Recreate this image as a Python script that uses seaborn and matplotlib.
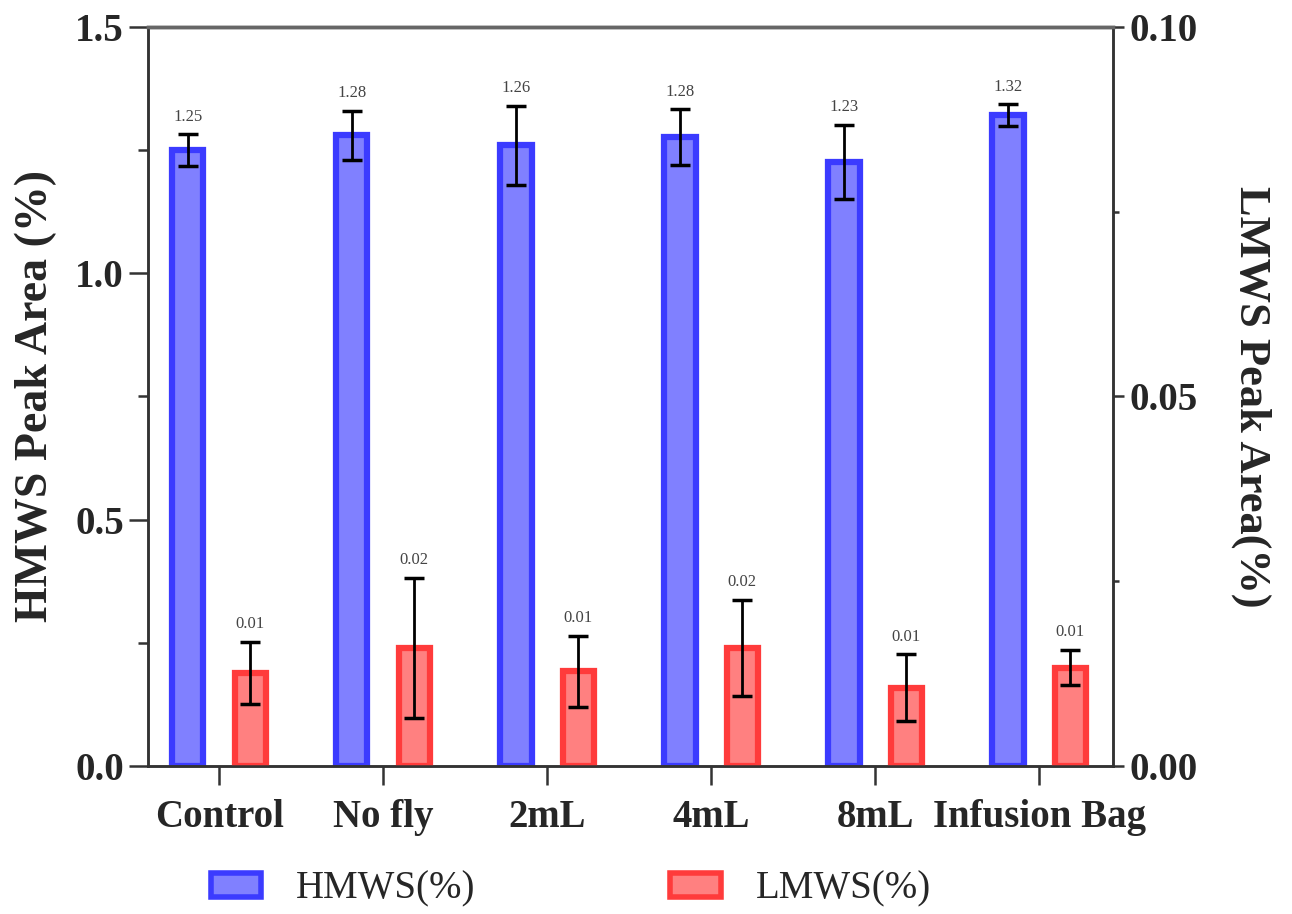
import matplotlib
matplotlib.use('Agg')
import pandas as pd
import seaborn as sns
import matplotlib.pyplot as plt
from matplotlib.patches import Patch
from matplotlib.ticker import MultipleLocator, FormatStrFormatter

groups = ['Control', 'No fly', '2mL', '4mL', '8mL', 'Infusion Bag']
hmws = [1.25, 1.28, 1.26, 1.276, 1.226, 1.321]
hmws_err = [0.032, 0.05, 0.08, 0.057, 0.075, 0.022]
lmws = [0.0126, 0.016, 0.0128, 0.016, 0.0106, 0.0133]
lmws_err = [0.0042, 0.0095, 0.0048, 0.0065, 0.0045, 0.0024]
series = ['HMWS(%)', 'LMWS(%)']

if __name__ == '__main__':
    sns.set_style('ticks')
    plt.rcParams['font.family'] = ['Liberation Serif', 'DejaVu Serif']

    face = {'HMWS(%)': '#8080ff', 'LMWS(%)': '#ff8080'}
    edge = {'HMWS(%)': '#3b3bff', 'LMWS(%)': '#ff3b3b'}

    df_h = pd.DataFrame({'group': groups, 'value': hmws, 'series': series[0]})
    df_l = pd.DataFrame({'group': groups, 'value': lmws, 'series': series[1]})

    fig = plt.figure(figsize=(12.92, 9.14), dpi=100)
    ax = fig.add_axes([0.1146, 0.1619, 0.7469, 0.8086])
    ax2 = ax.twinx()

    sns.barplot(data=df_h, x='group', y='value', hue='series', hue_order=series,
                palette=face, order=groups, width=0.76, gap=0.5, dodge=True, saturation=1,
                errorbar=None, legend=False, ax=ax, edgecolor=edge['HMWS(%)'], linewidth=4.5)
    sns.barplot(data=df_l, x='group', y='value', hue='series', hue_order=series,
                palette=face, order=groups, width=0.76, gap=0.5, dodge=True, saturation=1,
                errorbar=None, legend=False, ax=ax2, edgecolor=edge['LMWS(%)'], linewidth=4.5)

    # error bars + value labels
    for a, vals, errs in [(ax, hmws, hmws_err), (ax2, lmws, lmws_err)]:
        bars = [p for p in a.patches if p.get_height() > 0]
        xs = [p.get_x() + p.get_width() / 2 for p in bars]
        a.errorbar(xs, vals, yerr=errs, fmt='none', ecolor='black', elinewidth=2,
                   capsize=7, capthick=2.5, zorder=5)
        for x, v, e in zip(xs, vals, errs):
            a.annotate('{:.2f}'.format(v), (x, v + e), xytext=(0, 7), textcoords='offset points',
                       ha='center', va='bottom', fontsize=12, color='#444444')

    ax.set_xlim(-0.433, 5.451)
    ax.set_ylim(0, 1.5)
    ax2.set_ylim(0, 0.10)
    ax.yaxis.set_major_locator(MultipleLocator(0.5))
    ax.yaxis.set_minor_locator(MultipleLocator(0.25))
    ax.yaxis.set_major_formatter(FormatStrFormatter('%.1f'))
    ax2.yaxis.set_major_locator(MultipleLocator(0.05))
    ax2.yaxis.set_minor_locator(MultipleLocator(0.025))
    ax2.yaxis.set_major_formatter(FormatStrFormatter('%.2f'))

    ax.set_xlabel('')
    ax2.set_xlabel('')
    ax.set_ylabel('HMWS Peak Area (%)', fontsize=33, fontweight='bold')
    ax2.set_ylabel('LMWS Peak Area(%)', fontsize=32, fontweight='bold', rotation=270)
    ax.yaxis.set_label_coords(-0.094, 0.5)
    ax2.yaxis.set_label_coords(1.164, 0.5)

    for a in (ax, ax2):
        for s in a.spines.values():
            s.set_linewidth(1.8)
            s.set_color('#333333')
        a.spines['top'].set_visible(True)
        a.spines['top'].set_linewidth(2.5)
        a.spines['top'].set_color('#666666')
    ax.tick_params(axis='y', which='major', length=14, width=1.8, labelsize=28, color='#333333')
    ax.tick_params(axis='y', which='minor', length=7, width=1.8, color='#333333')
    ax.tick_params(axis='x', length=14, width=1.8, labelsize=28, pad=10, color='#333333')
    ax2.tick_params(axis='y', which='major', length=8, width=1.8, labelsize=28, color='#333333')
    ax2.tick_params(axis='y', which='minor', length=4.5, width=1.8, color='#333333')
    for lab in ax.get_xticklabels() + ax.get_yticklabels() + ax2.get_yticklabels():
        lab.set_fontweight('bold')

    handles = [Patch(facecolor=face[s], edgecolor=edge[s], linewidth=4, label=s) for s in series]
    fig.legend(handles=handles, loc='center left', bbox_to_anchor=(0.163, 0.027), ncol=2,
               frameon=False, fontsize=28, handlelength=1.3, handleheight=0.55,
               handletextpad=0.9, columnspacing=5.0, borderpad=0, borderaxespad=0)

    fig.savefig('out.png', dpi=100)
